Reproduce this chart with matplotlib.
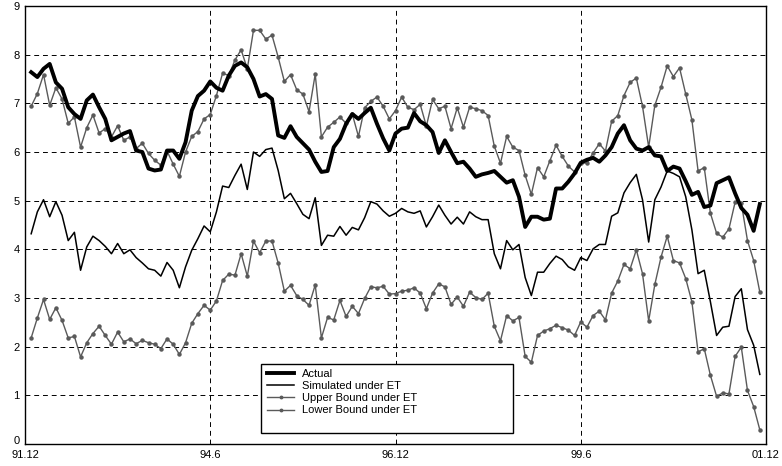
import numpy as np
import matplotlib
matplotlib.use("Agg")
import matplotlib.pyplot as plt
import matplotlib.transforms as mtransforms
from matplotlib.patches import Rectangle

plt.rcParams['font.family'] = ['Liberation Sans', 'DejaVu Sans']

tick_labels = ["91.12", "94.6", "96.12", "99.6", "01.12"]
tick_months = [0, 30, 60, 90, 120]   # months after 91.12

actual = [7.64, 7.54, 7.71, 7.81, 7.43, 7.30, 6.92, 6.78, 6.68, 7.06,
          7.18, 6.92, 6.68, 6.24, 6.31, 6.38, 6.43, 6.03, 6.00, 5.66,
          5.62, 5.64, 6.03, 6.03, 5.86, 6.20, 6.85, 7.15, 7.26, 7.45,
          7.32, 7.26, 7.57, 7.77, 7.84, 7.74, 7.50, 7.14, 7.19, 7.09,
          6.34, 6.29, 6.53, 6.31, 6.18, 6.05, 5.80, 5.59, 5.61, 6.10,
          6.27, 6.58, 6.78, 6.68, 6.80, 6.91, 6.58, 6.28, 6.03, 6.38,
          6.48, 6.50, 6.80, 6.63, 6.55, 6.41, 5.98, 6.24, 6.00, 5.77,
          5.80, 5.66, 5.49, 5.54, 5.57, 5.61, 5.49, 5.37, 5.42, 5.08,
          4.46, 4.67, 4.67, 4.61, 4.63, 5.25, 5.25, 5.39, 5.56, 5.78,
          5.84, 5.88, 5.80, 5.93, 6.10, 6.38, 6.55, 6.24, 6.07, 6.03,
          6.10, 5.93, 5.91, 5.61, 5.70, 5.66, 5.40, 5.12, 5.18, 4.87,
          4.90, 5.36, 5.42, 5.48, 5.15, 4.85, 4.71, 4.38, 4.93]

simulated = [4.32, 4.77, 5.02, 4.67, 4.98, 4.70, 4.18, 4.35, 3.57, 4.05,
             4.27, 4.18, 4.06, 3.91, 4.12, 3.91, 3.99, 3.83, 3.72, 3.60,
             3.57, 3.45, 3.73, 3.57, 3.21, 3.64, 3.98, 4.22, 4.48, 4.36,
             4.77, 5.30, 5.27, 5.52, 5.75, 5.23, 6.00, 5.91, 6.05, 6.08,
             5.62, 5.04, 5.15, 4.94, 4.72, 4.63, 5.06, 4.08, 4.29, 4.27,
             4.47, 4.29, 4.45, 4.40, 4.65, 4.98, 4.93, 4.79, 4.68, 4.74,
             4.84, 4.77, 4.74, 4.79, 4.46, 4.67, 4.91, 4.70, 4.52, 4.66,
             4.52, 4.77, 4.67, 4.61, 4.61, 3.91, 3.60, 4.18, 3.99, 4.10,
             3.42, 3.05, 3.53, 3.53, 3.71, 3.86, 3.79, 3.64, 3.57, 3.83,
             3.77, 4.01, 4.10, 4.10, 4.68, 4.75, 5.16, 5.37, 5.54, 5.02,
             4.15, 5.02, 5.28, 5.61, 5.56, 5.49, 5.08, 4.40, 3.50, 3.57,
             2.92, 2.23, 2.40, 2.42, 3.03, 3.19, 2.35, 2.03, 1.43]

upper = [6.94, 7.20, 7.59, 6.96, 7.32, 7.09, 6.59, 6.72, 6.10, 6.50,
         6.76, 6.39, 6.48, 6.31, 6.54, 6.24, 6.31, 6.07, 6.18, 5.97,
         5.83, 5.73, 6.02, 5.75, 5.50, 6.00, 6.32, 6.42, 6.68, 6.77,
         7.16, 7.62, 7.57, 7.89, 8.10, 7.71, 8.50, 8.50, 8.32, 8.40,
         7.95, 7.45, 7.59, 7.28, 7.19, 6.83, 7.60, 6.31, 6.51, 6.61,
         6.72, 6.59, 6.78, 6.32, 6.91, 7.04, 7.13, 6.94, 6.68, 6.85,
         7.13, 6.92, 6.87, 6.98, 6.53, 7.08, 6.89, 6.94, 6.48, 6.91,
         6.51, 6.92, 6.89, 6.85, 6.75, 6.12, 5.77, 6.32, 6.10, 6.03,
         5.52, 5.13, 5.68, 5.49, 5.82, 6.14, 5.91, 5.71, 5.59, 5.78,
         5.77, 5.98, 6.17, 6.02, 6.63, 6.75, 7.16, 7.43, 7.52, 6.94,
         6.10, 6.96, 7.33, 7.77, 7.55, 7.73, 7.19, 6.66, 5.61, 5.68,
         4.74, 4.33, 4.25, 4.42, 4.97, 4.95, 4.18, 3.77, 3.12]

lower = [2.18, 2.59, 2.97, 2.56, 2.80, 2.54, 2.18, 2.21, 1.79, 2.08,
         2.27, 2.42, 2.23, 2.05, 2.30, 2.10, 2.16, 2.06, 2.13, 2.08,
         2.05, 1.96, 2.16, 2.05, 1.84, 2.08, 2.48, 2.68, 2.85, 2.75,
         2.94, 3.36, 3.49, 3.47, 3.91, 3.45, 4.17, 3.93, 4.17, 4.17,
         3.72, 3.14, 3.26, 3.05, 2.97, 2.85, 3.27, 2.18, 2.60, 2.55,
         2.95, 2.62, 2.83, 2.68, 2.99, 3.23, 3.21, 3.24, 3.08, 3.09,
         3.14, 3.16, 3.21, 3.10, 2.78, 3.10, 3.29, 3.23, 2.87, 3.02,
         2.83, 3.12, 3.01, 2.97, 3.10, 2.42, 2.12, 2.64, 2.53, 2.60,
         1.80, 1.68, 2.23, 2.32, 2.37, 2.44, 2.39, 2.34, 2.23, 2.51,
         2.40, 2.64, 2.73, 2.55, 3.10, 3.35, 3.69, 3.60, 3.99, 3.50,
         2.53, 3.28, 3.84, 4.27, 3.77, 3.72, 3.40, 2.92, 1.89, 1.96,
         1.41, 0.98, 1.05, 1.03, 1.80, 1.99, 1.10, 0.77, 0.29]

months = np.arange(1, len(actual) + 1)   # 92.1 ... 01.11

fig = plt.figure(figsize=(7.82, 4.66), dpi=100)
ax = fig.add_axes([25 / 782, 22 / 466, 741 / 782, 438 / 466])

gray = '#5a5a5a'
ax.plot(months, actual, color='black', lw=2.8, label='Actual', zorder=5)
ax.plot(months, simulated, color='black', lw=1.1, label='Simulated under ET', zorder=4)
ax.plot(months, upper, color=gray, lw=1.0, marker='o', ms=2.2,
        mfc=gray, mec=gray, label='Upper Bound under ET', zorder=3)
ax.plot(months, lower, color=gray, lw=1.0, marker='o', ms=2.2,
        mfc=gray, mec=gray, label='Lower Bound under ET', zorder=3)

ax.set_xlim(0, 120)
ax.set_ylim(0, 9)
ax.set_xticks(tick_months)
ax.set_xticklabels(tick_labels)
ax.set_yticks(range(0, 10))
ax.tick_params(axis='both', length=0, labelsize=8)
ax.tick_params(axis='x', pad=4)
ax.tick_params(axis='y', pad=4)
ax.grid(True, color='black', linestyle=(0, (5, 4)), lw=0.7)

# nudge the "0" label up slightly so it sits above the first date label
zero_lbl = ax.get_yticklabels()[0]
zero_lbl.set_transform(zero_lbl.get_transform() +
                       mtransforms.ScaledTranslation(0, 3 / 72, fig.dpi_scale_trans))

for s in ax.spines.values():
    s.set_linewidth(1.0)
    s.set_color('black')

rect = Rectangle((0.318, 0.025), 0.341, 0.157, transform=ax.transAxes,
                 facecolor='white', edgecolor='black', lw=1.0, zorder=6)
ax.add_patch(rect)
leg = ax.legend(loc='upper left', bbox_to_anchor=(0.318, 0.187), frameon=False,
                fontsize=8, handlelength=2.4, handletextpad=0.7,
                labelspacing=0.2, borderaxespad=0.2, markerscale=0.8)
leg.set_zorder(7)

fig.savefig('out.png', dpi=100)
